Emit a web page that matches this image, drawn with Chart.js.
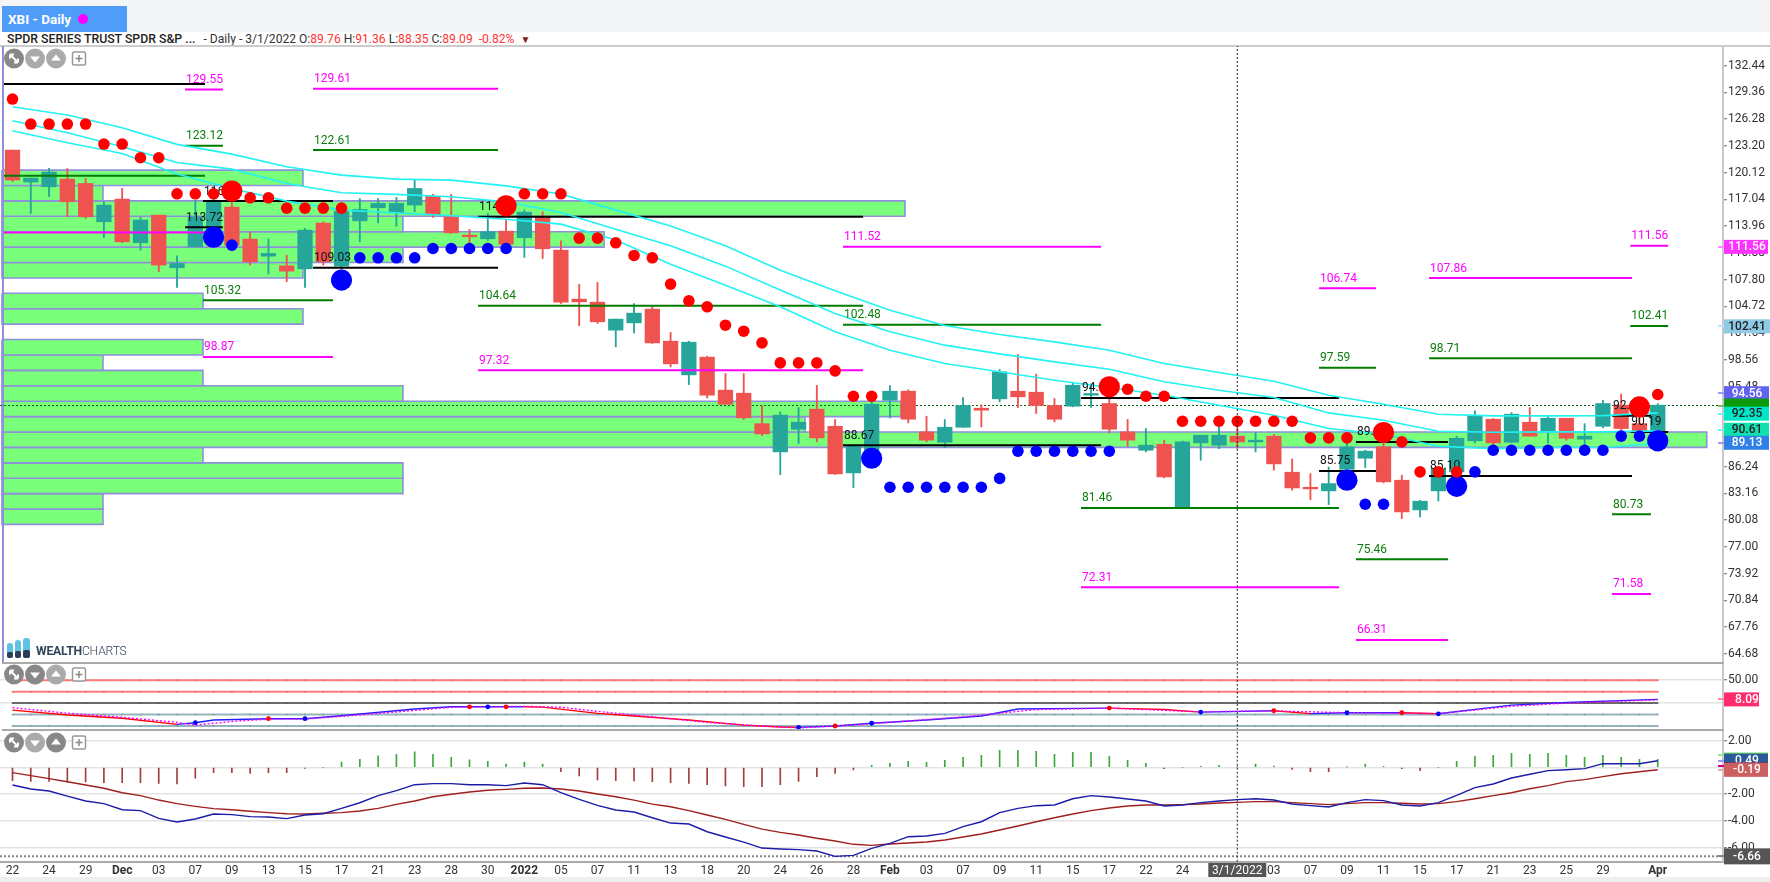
<!DOCTYPE html>
<html>
<head>
<meta charset="utf-8">
<title>XBI - Daily</title>
<script src="https://cdn.jsdelivr.net/npm/chart.js@4"></script>
<style>
  html, body { margin: 0; padding: 0; background: #fff; overflow: hidden; }
  body { width: 1770px; height: 882px; position: relative; font-family: Roboto, sans-serif; color: #333; }
  canvas { position: absolute; left: 0; }
  .abs { position: absolute; }
  #topStrip { left: 0; top: 0; width: 1770px; height: 32px; background: #f3f5f7; }
  #tab { left: 2px; top: 6px; width: 125px; height: 26px; background: #4f9cf9; color: #fff; font-size: 13.5px; font-weight: 700; line-height: 26px; text-indent: 6px; }
  #tabDot { left: 78px; top: 14px; width: 10px; height: 10px; border-radius: 50%; background: #ff00ff; }
  #info { left: 7px; top: 32px; height: 14px; font-size: 12.1px; line-height: 14px; white-space: nowrap; }
  #info b { font-weight: 500; font-size: 12.3px; color: #222; margin-right: 5px; }
  #info .r { color: #f33; }
  #info .t { color: #8b1a1a; font-size: 10px; }
  .sep { left: 2px; width: 1722px; height: 2px; background: #aaa; }
  #headLine { left: 0; top: 45px; width: 1770px; height: 2px; background: #ccc; }
  #leftEdge { left: 2px; top: 46px; width: 1.5px; height: 616px; background: #8f8fdc; }
  #foot { left: 0; top: 877px; width: 1770px; height: 5px; background: #eef0f0; }
  .ctl { position: absolute; }
  #brand { left: 36px; top: 644px; font-size: 12.2px; color: #33455a; letter-spacing: -.2px; }
  #brand b { font-weight: 700; }
  #brand span { font-weight: 300; }
</style>
</head>
<body>
<div class="abs" id="topStrip"></div>
<div class="abs" id="tab">XBI - Daily</div>
<div class="abs" id="tabDot"></div>
<div class="abs" id="info"><b>SPDR SERIES TRUST SPDR S&amp;P ...</b> - Daily - 3/1/2022 O:<span class="r">89.76</span> H:<span class="r">91.36</span> L:<span class="r">88.35</span> C:<span class="r">89.09</span>&nbsp; <span class="r">-0.82%</span>&nbsp; <span class="t">▼</span></div>
<div class="abs" id="headLine"></div>

<canvas id="priceChart" width="1770" height="617" style="top:46px"></canvas>
<canvas id="oscChart" width="1770" height="67" style="top:663px"></canvas>
<canvas id="macdChart" width="1770" height="152" style="top:730px"></canvas>

<div class="abs" id="leftEdge"></div>
<div class="abs sep" style="top:662px"></div>
<div class="abs sep" style="top:729px"></div>
<div class="abs" id="foot"></div>

<svg class="abs" style="left:6px;top:637px" width="26" height="22">
  <rect x="1" y="6" width="6" height="15" rx="3" fill="#5ec3e3"/><rect x="9" y="3" width="6" height="18" rx="3" fill="#5ec3e3"/><rect x="17" y="1" width="7" height="20" rx="3" fill="#5ec3e3"/>
  <rect x="1" y="15" width="6" height="6" rx="2" fill="#2c3e55"/><rect x="9" y="14" width="6" height="7" rx="2" fill="#2c3e55"/><rect x="17" y="13" width="7" height="8" rx="2" fill="#2c3e55"/>
</svg>
<div class="abs" id="brand"><b>WEALTH</b><span>CHARTS</span></div>

<script>
// ---- Candles (one entry per trading day) ----
const opens = [122.70,119.02,118.48,119.36,118.86,114.45,117.06,112.03,115.21,109.15,111.57,113.00,116.14,112.45,110.49,109.38,109.03,114.30,109.34,114.56,116.06,115.49,116.37,117.40,115.02,112.91,112.49,113.37,112.61,115.02,111.18,105.54,105.19,101.97,102.81,104.39,100.70,96.82,98.86,95.06,94.71,91.20,87.95,90.56,92.87,90.90,85.53,88.14,93.90,94.94,90.25,89.06,90.79,92.98,94.06,94.94,94.82,93.29,93.21,94.48,93.52,90.25,88.14,88.83,81.54,88.99,88.72,89.76,89.10,89.76,85.61,83.88,83.46,85.95,87.22,88.53,84.69,81.27,83.46,85.65,89.22,91.71,89.06,91.37,90.37,91.83,89.41,90.90,93.33,91.20,90.25];
const highs = [122.70,119.48,120.59,120.59,119.44,116.75,118.29,114.95,115.21,110.53,116.95,117.90,116.90,113.30,112.45,110.60,113.68,114.45,115.68,117.13,117.13,117.25,119.25,117.60,117.60,113.56,115.40,114.64,115.80,115.60,112.26,107.23,107.46,103.24,105.04,104.66,101.70,100.70,98.97,96.97,96.97,93.25,92.56,93.06,95.60,91.68,88.72,93.90,95.60,95.10,92.06,91.68,94.21,93.37,97.44,99.16,96.90,94.09,95.94,95.80,94.20,91.68,90.64,89.30,89.20,89.87,90.83,91.36,90.18,89.95,87.14,85.45,86.20,89.00,88.15,90.50,85.26,82.38,86.15,89.75,92.67,91.80,92.48,93.06,91.98,91.83,91.20,93.90,94.60,93.00,93.50];
const lows = [119.06,115.41,117.33,115.02,114.83,112.64,112.03,111.18,108.69,106.88,111.57,113.00,111.50,109.46,108.42,107.54,106.88,109.46,109.00,112.14,114.33,113.95,115.60,114.95,113.10,111.76,112.30,111.76,110.34,110.22,105.04,102.47,102.74,100.05,101.66,100.43,97.74,95.70,94.17,93.44,91.67,89.83,85.34,88.91,89.10,85.34,83.84,88.00,91.87,91.29,89.10,88.45,90.79,90.83,93.71,93.06,92.37,91.40,93.14,93.06,90.14,88.60,87.95,84.95,81.54,86.99,88.33,88.35,87.95,85.84,83.54,82.46,81.88,85.90,86.14,84.38,80.27,80.46,82.30,85.00,88.99,88.72,88.99,89.76,88.99,89.30,87.95,90.72,90.50,90.00,90.00];
const closes = [119.25,119.48,120.17,116.75,115.02,116.37,112.14,114.64,109.46,109.65,115.02,116.75,111.76,109.84,110.80,108.76,113.49,109.84,115.68,115.87,116.56,116.56,118.29,115.29,113.18,112.72,113.30,111.87,115.56,111.34,105.19,105.23,102.93,103.24,103.93,100.50,98.09,100.58,94.48,93.44,91.87,90.02,92.18,91.37,89.56,85.42,88.72,93.44,94.94,91.71,89.30,90.79,93.29,92.75,97.17,94.29,93.29,91.71,95.63,94.67,90.56,89.30,88.72,85.07,89.10,89.87,89.87,89.09,89.30,86.57,83.80,83.69,84.30,88.53,88.03,84.50,81.04,82.27,86.03,89.52,92.06,88.99,92.29,89.76,91.83,89.52,89.76,93.52,90.64,90.25,93.33];

// ---- Swing dots, [bar, price] ----
const redSmall = [[0,128.58],[1,125.7],[2,125.7],[3,125.7],[4,125.7],[5,123.4],[6,123.4],[7,121.82],[8,121.82],[9,117.67],[10,117.67],[11,117.67],[13,117.21],[14,117.21],[15,116.02],[16,116.02],[17,116.02],[18,116.02],[28,117.67],[29,117.67],[30,117.67],[31,112.57],[32,112.57],[33,112.03],[34,110.57],[35,110.3],[36,107.27],[37,105.35],[38,104.66],[39,102.54],[40,101.85],[41,100.5],[42,98.2],[43,98.2],[44,98.2],[45,97.28],[46,94.36],[47,94.36],[61,95.17],[62,94.36],[63,94.36],[64,91.48],[65,91.48],[66,91.48],[67,91.48],[68,91.48],[69,91.48],[70,91.48],[71,89.56],[72,89.56],[73,89.56],[76,89.1],[77,85.65],[78,85.65],[79,85.65],[90,94.56]];
const redBig = [[12,117.98],[27,116.29],[60,95.44],[75,90.18],[89,93.13]];
const blueSmall = [[12,111.76],[19,110.3],[20,110.3],[21,110.3],[22,110.3],[23,111.37],[24,111.37],[25,111.37],[26,111.37],[27,111.37],[48,83.88],[49,83.88],[50,83.88],[51,83.88],[52,83.88],[53,83.88],[54,84.9],[55,88.03],[56,88.03],[57,88.03],[58,88.03],[59,88.03],[60,88.03],[74,81.92],[75,81.92],[80,85.65],[81,88.14],[82,88.14],[83,88.14],[84,88.14],[85,88.14],[86,88.14],[87,88.14],[88,89.76],[89,89.76]];
const blueBig = [[11,112.68],[18,107.73],[47,87.22],[73,84.69],[79,83.99],[90,89.22]];

// ---- Cyan envelope, sampled every third bar ----
const envBars = [0,3,6,9,12,15,18,21,24,27,30,33,36,39,42,45,48,51,54,57,60,63,66,69,72,75,78,81,84,87,90];
const envUpper = [127.7,126.74,125.28,123.36,122.24,120.78,119.82,119.36,119.25,118.58,117.64,115.79,113.95,111.68,108.88,106.5,104.27,102.5,101.47,100.62,99.66,98.13,97.09,96.09,94.48,93.44,92.29,92.1,92.1,92.13,92.44];
const envMiddle = [126.08,124.7,123.09,121.28,120.51,118.86,117.79,117.6,117.33,116.75,115.52,113.6,111.68,109.34,106.58,103.89,101.78,100.24,99.24,98.32,97.47,96.02,95.05,94.21,92.44,91.6,90.33,90.22,90.25,90.25,90.37];
const envLower = [124.93,123.55,122.32,119.94,118.29,116.83,115.79,115.49,115.14,114.74,114.18,112.34,109.57,107.15,104.66,101.78,99.66,98.13,97.17,96.2,95.36,94.48,93.33,92.18,90.64,89.99,88.6,88.33,88.45,88.45,88.91];

// ---- Level segments, [first bar, last bar, price, label] ----
const blackLevels = [[-0.57,10.53,130.31,''],[10.42,17.53,116.83,'116.72'],[9.44,11.51,113.83,'113.72'],[16.44,26.56,109.15,'109.03'],[25.47,46.53,115.02,'114.90'],[45.43,59.55,88.72,'88.67'],[58.45,72.57,94.17,'94.05'],[71.47,74.59,85.76,'85.75'],[73.49,78.53,89.1,'89.00'],[77.49,88.59,85.18,'85.10'],[87.5,89.63,92.1,'92.00'],[88.5,90.57,90.25,'90.19']];
const greenLevels = [[-0.57,10.53,119.75,''],[9.44,11.51,123.2,'123.12'],[16.44,26.56,122.7,'122.61'],[10.42,17.53,105.42,'105.32'],[25.47,46.53,104.77,'104.64'],[45.43,59.55,102.58,'102.48'],[58.45,72.57,81.5,'81.46'],[71.47,74.59,97.63,'97.59'],[73.49,78.53,75.6,'75.46'],[77.49,88.59,98.74,'98.71'],[88.5,90.57,102.46,'102.41'],[87.5,89.63,80.77,'80.73']];
const magentaLevels = [[-0.57,10.53,113.22,''],[9.44,11.51,129.69,'129.55'],[16.44,26.56,129.77,'129.61'],[10.42,17.53,98.89,'98.87'],[25.47,46.53,97.36,'97.32'],[45.43,59.55,111.57,'111.52'],[58.45,72.57,72.35,'72.31'],[71.47,74.59,106.8,'106.74'],[73.49,78.53,66.3,'66.31'],[77.49,88.59,107.96,'107.86'],[88.5,90.57,111.68,'111.56'],[87.5,89.63,71.59,'71.58']];

// ---- Volume profile: top price, bottom price, last bar ----
const profileTop = [120.40,118.63,116.85,115.08,113.30,111.53,109.76,106.21,104.43,100.89,99.11,97.34,95.56,93.79,92.01,90.24,88.47,86.69,84.92,83.14,81.37];
const profileBottom = [118.63,116.85,115.08,113.30,111.53,109.76,107.98,104.43,102.66,99.11,97.34,95.56,93.79,92.01,90.24,88.47,86.69,84.92,83.14,81.37,79.60];
const profileEnd = [15.89,4.95,48.82,21.36,32.36,21.36,15.89,10.42,15.89,10.42,4.95,10.42,21.36,48.6,43.35,92.68,10.42,21.36,21.36,4.95,4.95];

// ---- Oscillator panel ----
const oscBars = [0,3,6,9,10,11,14,16,18,22,24,26,28,29,32,34,37,40,42,43,45,47,50,53,55,60,63,65,69,71,73,76,78,82,85,90];
const oscMain = [-15.2,-26,-33,-46.4,-42.8,-37,-34,-34,-27.5,-13,-8,-8,-8,-8.7,-22.5,-28,-37,-48,-52,-53,-50,-44,-37,-28,-13,-10.9,-14,-19.6,-16.7,-23,-21,-21,-23.3,-4.3,1.5,8.09];
const sigBars = [0,3,6,9,10,12,14,16,18,22,24,28,30,32,35,38,41,43,46,48,52,56,60,65,69,73,78,82,85,90];
const oscSignal = [-10,-22,-31,-42,-48,-40,-35,-35,-29,-16,-9,-7,-9,-18,-30,-42,-50,-54,-48,-42,-30,-14,-11,-19,-17,-21,-23,-7,0,7];
const oscBlueDots = [[10,-42.8],[16,-34],[26,-8],[43,-53],[47,-44],[65,-19.6],[73,-21],[78,-23.3]];
const oscRedDots = [[14,-34],[25,-8],[27,-8],[45,-50],[60,-10.9],[69,-16.7],[76,-21]];
const oscRedLevels = [50, 25];
const oscDarkLevels = [0];
const oscBlueLevels = [-25, -50];

// ---- MACD panel ----
const macdHist = [-1,-1.05,-1.05,-1.1,-1.1,-1.15,-1.15,-1.15,-1.2,-1.25,-0.82,-0.4,-0.4,-0.45,-0.4,-0.4,-0.08,0,0.4,0.6,0.85,0.97,1.15,0.97,0.75,0.55,0.45,0.25,0.4,0.25,-0.32,-0.65,-0.95,-1,-1.02,-1.08,-1.15,-1.2,-1.3,-1.4,-1.45,-1.45,-1.3,-1.05,-0.7,-0.45,-0.2,0.15,0.3,0.45,0.37,0.52,0.75,0.9,1.27,1.27,1.2,0.97,1.12,1.12,0.82,0.52,0.3,-0.1,0,0.07,0.15,0.02,0.25,0.1,-0.15,-0.32,-0.32,0.02,0.25,0.07,-0.1,-0.25,0,0.45,0.82,0.9,1.05,0.97,1.05,0.9,0.75,0.9,0.75,0.6,0.6];
const macdBlue = [-1.32,-1.62,-1.77,-2.15,-2.52,-2.72,-3.17,-3.24,-3.82,-4.09,-3.87,-3.49,-3.54,-3.69,-3.72,-3.84,-3.57,-3.47,-3.07,-2.65,-2.12,-1.75,-1.3,-1.22,-1.22,-1.3,-1.3,-1.37,-1.17,-1.3,-1.9,-2.4,-2.85,-3.19,-3.34,-3.77,-4.17,-4.24,-4.82,-5.21,-5.59,-6.04,-6.11,-6.16,-6.26,-6.66,-6.59,-6.06,-5.69,-5.19,-5.14,-4.94,-4.44,-4.07,-3.39,-3.07,-2.87,-2.82,-2.35,-2.12,-2.22,-2.37,-2.52,-2.89,-2.82,-2.64,-2.52,-2.42,-2.35,-2.45,-2.74,-2.87,-2.97,-2.64,-2.42,-2.49,-2.82,-2.89,-2.64,-2.1,-1.52,-1.25,-0.8,-0.52,-0.25,-0.18,-0.1,0.27,0.27,0.27,0.49];
const macdRed = [-0.4,-0.62,-0.85,-1.08,-1.32,-1.57,-1.9,-2.12,-2.45,-2.72,-2.92,-3.09,-3.17,-3.29,-3.39,-3.47,-3.49,-3.44,-3.39,-3.27,-3.07,-2.77,-2.52,-2.2,-2.02,-1.85,-1.72,-1.65,-1.57,-1.55,-1.62,-1.77,-2,-2.2,-2.45,-2.75,-2.95,-3.24,-3.57,-3.89,-4.27,-4.62,-4.87,-5.06,-5.31,-5.51,-5.76,-5.84,-5.74,-5.66,-5.59,-5.44,-5.21,-4.99,-4.69,-4.39,-4.07,-3.77,-3.49,-3.24,-3.04,-2.89,-2.82,-2.82,-2.79,-2.74,-2.67,-2.62,-2.57,-2.57,-2.64,-2.72,-2.79,-2.72,-2.64,-2.64,-2.69,-2.74,-2.72,-2.57,-2.35,-2.12,-1.9,-1.6,-1.37,-1.07,-0.92,-0.7,-0.48,-0.33,-0.18];

// ---- Axes ----
const priceTicks = [132.44,129.36,126.28,123.20,120.12,117.04,113.96,110.88,107.80,104.72,101.64,98.56,95.48,92.40,89.32,86.24,83.16,80.08,77.00,73.92,70.84,67.76,64.68];
const oscTicks = [50, 0];
const macdTicks = [2, 0, -2, -4, -6];
const dateBars = [0,2,4,6,8,10,12,14,16,18,20,22,24,26,28,30,32,34,36,38,40,42,44,46,48,50,52,54,56,58,60,62,64,69,71,73,75,77,79,81,83,85,87,90];
const dateLabels = ['22','24','29','Dec','03','07','09','13','15','17','21','23','28','30','2022','05','07','11','13','18','20','24','26','28','Feb','03','07','09','11','15','17','22','24','03','07','09','11','15','17','21','23','25','29','Apr'];
const boldDates = ['Dec', '2022', 'Feb', 'Apr'];

// value shown by the crosshair, last close
const crossBar = 67;
const crossDate = '3/1/2022';
const lastClose = 93.29;
const macdLow = -6.66;

const priceTags = [
  { value: 111.56, text: '111.56', bg: '#ff33ff', fg: '#fff', dash: '#ff88ff', right: 1768 },
  { value: 102.41, text: '102.41', bg: '#8fcbe6', fg: '#222', dash: '#bfe3f2', right: 1770 },
  { value: 94.7, text: '94.56', bg: '#6161f2', fg: '#fff', dash: '#9a9af5', right: 1769 },
  { value: 93.29, text: '', bg: '#0a9a0a', fg: '#fff', dash: '#6fbf6f', right: 1769 },
  { value: 92.35, text: '92.35', bg: '#00e6c8', fg: '#222', dash: '#70f5f5', right: 1769 },
  { value: 90.5, text: '90.61', bg: '#11e0b0', fg: '#222', dash: '#70f5f5', right: 1769 },
  { value: 89.0, text: '89.13', bg: '#2f80e8', fg: '#fff', dash: '#9a9af5', right: 1769 },
];
const oscTags = [{ value: 8.09, text: '8.09', bg: '#ff2d6e', fg: '#fff', dash: '#ff88aa', right: 1759 }];
const macdTags = [
  { value: 0.95, text: '', h: 4, bg: '#5cc85c', fg: '#fff', dash: '#9adf9a', right: 1768 },
  { value: 0.49, text: '0.49', bg: '#2a5a9a', fg: '#fff', dash: '#9a9af5', right: 1768 },
  { value: 0.1, text: '', h: 7, bg: '#8a2040', fg: '#fff', dash: '#c08', right: 1768 },
  { value: -0.19, text: '-0.19', bg: '#cc6060', fg: '#fff', dash: '#eaa', right: 1768 },
  { value: -6.66, text: '-6.66', h: 16, bg: '#555', fg: '#fff', dash: '#888', right: 1770 },
];

const X_MIN = -0.684;
const X_MAX = 93.57;
const FONT = '12px Roboto';
const TEAL = '#26a69a';
const RED = '#ef5350';

// ---- Dataset helpers ----
function segment(x0, y0, x1, y1, color, width, order, dash) {
  return {
    type: 'line', order, data: [{ x: x0, y: y0 }, { x: x1, y: y1 }],
    borderColor: color, borderWidth: width, borderDash: dash || [],
    pointRadius: 0, tension: 0, fill: false,
  };
}

function curve(bars, values, color, width, order) {
  return {
    type: 'line', order, data: bars.map((b, i) => ({ x: b, y: values[i] })),
    borderColor: color, borderWidth: width, pointRadius: 0, tension: 0, fill: false,
  };
}

function dots(label, pairs, color, radius, order) {
  return {
    label, type: 'line', order, showLine: false,
    data: pairs.map(p => ({ x: p[0], y: p[1] })),
    pointRadius: radius, pointBackgroundColor: color, pointBorderWidth: 0,
  };
}

function allBars(values) {
  return values.map((_, i) => i);
}

function floatingBars(pairs, colors, thickness, order) {
  return {
    type: 'bar', order, grouped: false, barThickness: thickness,
    data: pairs, backgroundColor: colors, borderWidth: 0,
  };
}

// oscillator guide line, with the small darker mark it carries on every bar
function guide(value, color, markColor) {
  return {
    type: 'line', order: 40,
    data: allBars(macdHist).map(i => ({ x: i, y: value })),
    borderColor: color, borderWidth: 2, tension: 0, fill: false,
    pointStyle: 'rect', pointRadius: 1, pointBorderWidth: 0, pointBackgroundColor: markColor,
  };
}

// the scale reserves half a label at each end; these panels must fill their box
function noPadding(axis) {
  axis.paddingTop = 0;
  axis.paddingBottom = 0;
  axis.paddingLeft = 0;
  axis.paddingRight = 0;
}

function yAxis(min, max, ticks, grid) {
  return {
    position: 'right', min, max,
    afterFit: axis => { axis.width = 47; noPadding(axis); },
    afterBuildTicks: axis => { axis.ticks = ticks.map(v => ({ value: v })); },
    border: { color: '#c8c8c8', width: 2 },
    grid: { drawOnChartArea: grid, color: '#e3e3e3', lineWidth: 1.5, tickColor: '#666', tickLength: 4, tickWidth: 1 },
    ticks: { autoSkip: false, padding: 1, color: '#333', font: { family: 'Roboto', size: 12 }, callback: v => v.toFixed(2) },
  };
}

function hiddenX() {
  return { type: 'linear', display: false, min: X_MIN, max: X_MAX, offset: false };
}

// ---- Plugins ----
const tagPlugin = tags => ({
  id: 'tags',
  afterDraw(chart) {
    const { ctx, scales } = chart;
    ctx.save();
    ctx.font = '500 12px Roboto';
    ctx.textBaseline = 'middle';
    ctx.textAlign = 'center';
    tags.forEach(t => {
      const y = scales.y.getPixelForValue(t.value);
      const h = t.h || 14;
      ctx.fillStyle = t.dash;
      ctx.fillRect(1718, Math.round(y) - 1, 6, 2);
      ctx.fillStyle = t.bg;
      ctx.fillRect(1724, y - h / 2, t.right - 1724, h);
      if (t.text) {
        ctx.fillStyle = t.fg;
        ctx.fillText(t.text, 1747, y + 0.5);
      }
    });
    ctx.restore();
  },
});

// level labels sit under the swing dots
const levelTextPlugin = {
  id: 'levelText',
  beforeDatasetDraw(chart, args) {
    if (chart.data.datasets[args.index].label !== 'blueSmall') return;
    const { ctx, scales } = chart;
    ctx.save();
    ctx.font = FONT;
    ctx.textBaseline = 'alphabetic';
    const put = (rows, color) => rows.forEach(r => {
      if (!r[3]) return;
      ctx.fillStyle = color;
      ctx.fillText(r[3], scales.x.getPixelForValue(r[0]) + 1, scales.y.getPixelForValue(r[2]) - 6.5);
    });
    put(blackLevels, '#111');
    put(greenLevels, '#0b7d0b');
    put(magentaLevels, '#ff00ff');
    ctx.restore();
  },
};

const dateTagPlugin = {
  id: 'dateTag',
  afterDraw(chart) {
    const { ctx, scales } = chart;
    const x = scales.x.getPixelForValue(crossBar);
    ctx.save();
    ctx.fillStyle = '#555';
    ctx.fillRect(x - 29, 133, 58, 14);
    ctx.fillStyle = '#fff';
    ctx.font = FONT;
    ctx.textAlign = 'center';
    ctx.textBaseline = 'middle';
    ctx.fillText(crossDate, x, 140.5);
    ctx.restore();
  },
};

const baseOptions = {
  responsive: false,
  animation: false,
  events: [],
  layout: { padding: 0, autoPadding: false },
  plugins: { legend: { display: false }, tooltip: { enabled: false } },
};

// ---- Price panel ----
const candleColors = closes.map((c, i) => (c >= opens[i] ? TEAL : RED));
const priceData = [];

profileTop.forEach((top, i) => {
  const left = -0.575;
  priceData.push({
    type: 'line', order: 100,
    data: [
      { x: left, y: top }, { x: profileEnd[i], y: top }, { x: profileEnd[i], y: profileBottom[i] },
      { x: left, y: profileBottom[i] }, { x: left, y: top },
    ],
    borderColor: '#8f8fdc', borderWidth: 1.6, backgroundColor: '#79ff79',
    fill: 'shape', pointRadius: 0, tension: 0,
  });
});
priceData.push(segment(X_MIN, lastClose, X_MAX, lastClose, '#0c5c0c', 1, 60, [2, 2]));
priceData.push(floatingBars(allBars(lows).map(i => ({ x: i, y: [lows[i], highs[i]] })), candleColors, 1.2, 50));
priceData.push(floatingBars(allBars(opens).map(i => ({ x: i, y: [opens[i], closes[i]] })), candleColors, 14.6, 49));
[[magentaLevels, '#ff00ff'], [greenLevels, '#007c00'], [blackLevels, '#000']].forEach(([rows, color]) => {
  rows.forEach(r => priceData.push(segment(r[0], r[2], r[1], r[2], color, 2, 40)));
});
priceData.push(curve(envBars, envUpper, '#22f2f2', 1.6, 30));
priceData.push(curve(envBars, envMiddle, '#22f2f2', 1.6, 30));
priceData.push(curve(envBars, envLower, '#22f2f2', 1.6, 30));
priceData.push(dots('blueSmall', blueSmall, '#0000ff', 5.8, 20));
priceData.push(dots('blueBig', blueBig, '#0000ff', 10.6, 19));
priceData.push(dots('redSmall', redSmall, '#ff0000', 5.8, 18));
priceData.push(dots('redBig', redBig, '#ff0000', 10.6, 17));
priceData.push(segment(crossBar, 63.64, crossBar, 134.69, '#222', 1, 5, [2, 2]));

new Chart(document.getElementById('priceChart'), {
  type: 'bar',
  data: { datasets: priceData },
  options: {
    ...baseOptions,
    scales: { x: hiddenX(), y: yAxis(63.64, 134.69, priceTicks, false) },
  },
  plugins: [levelTextPlugin, tagPlugin(priceTags)],
});

// ---- Oscillator panel ----
const oscData = [];
oscRedLevels.forEach(v => oscData.push(guide(v, '#ff7b7b', '#e06060')));
oscDarkLevels.forEach(v => oscData.push(guide(v, '#6a6a6a', '#555')));
oscBlueLevels.forEach(v => oscData.push(guide(v, '#96b4be', '#7a98a4')));
oscData.push({
  ...curve(oscBars, oscMain, '#0000ff', 1.4, 30),
  segment: { borderColor: c => (c.p1.parsed.y < c.p0.parsed.y ? '#ff0000' : '#2020ff') },
});
oscData.push({ ...curve(sigBars, oscSignal, '#ff00ff', 1.4, 29), borderDash: [2, 2] });
oscData.push(dots('oscBlue', oscBlueDots, '#0000ff', 2.4, 20));
oscData.push(dots('oscRed', oscRedDots, '#ff0000', 2.4, 19));
oscData.push(segment(crossBar, -58.5, crossBar, 87.5, '#222', 1, 5, [2, 2]));

new Chart(document.getElementById('oscChart'), {
  type: 'line',
  data: { datasets: oscData },
  options: {
    ...baseOptions,
    scales: { x: hiddenX(), y: yAxis(-58.7, 87.6, oscTicks, true) },
  },
  plugins: [tagPlugin(oscTags)],
});

// ---- MACD panel ----
const histColors = macdHist.map(v => (v >= 0 ? '#3aa83a' : '#a33c3c'));
const macdData = [
  floatingBars(allBars(macdHist).map(i => ({ x: i, y: [0, macdHist[i]] })), histColors, 1, 50),
  curve(allBars(macdRed), macdRed, '#a01f1f', 1.4, 31),
  curve(allBars(macdBlue), macdBlue, '#1c1ca8', 1.4, 30),
  segment(X_MIN, macdLow, X_MAX, macdLow, '#888', 2, 40, [2, 2]),
  segment(crossBar, -7.06, crossBar, 2.79, '#222', 1, 5, [2, 2]),
];

new Chart(document.getElementById('macdChart'), {
  type: 'bar',
  data: { datasets: macdData },
  options: {
    ...baseOptions,
    scales: {
      x: {
        type: 'linear', min: X_MIN, max: X_MAX, offset: false,
        afterFit: axis => { axis.height = 20.3; noPadding(axis); },
        afterBuildTicks: axis => { axis.ticks = dateBars.map(v => ({ value: v })); },
        border: { color: '#aaa', width: 2 },
        grid: { display: false, drawTicks: false },
        ticks: {
          autoSkip: false, maxRotation: 0, padding: 2, color: '#333',
          font: c => ({ family: 'Roboto', size: 12, weight: c.tick && boldDates.includes(dateLabels[dateBars.indexOf(c.tick.value)]) ? '700' : '400' }),
          callback: v => dateLabels[dateBars.indexOf(v)],
        },
      },
      y: yAxis(-7.06, 2.79, macdTicks, true),
    },
  },
  plugins: [tagPlugin(macdTags), dateTagPlugin],
});

// ---- Panel controls ----
function addControls(top, shades) {
  const glyphs = [
    '<path d="M-4 -4 L4 4 M-4 -4 h4 M-4 -4 v4 M4 4 h-4 M4 4 v-4" stroke="#fff" stroke-width="2" fill="none"/>',
    '<path d="M-5 -2 L5 -2 L0 4 Z" fill="#fff"/>',
    '<path d="M-5 2 L5 2 L0 -4 Z" fill="#fff"/>',
  ];
  let html = '';
  shades.forEach((shade, i) => {
    html += `<g transform="translate(${14 + i * 21},10.5)"><circle r="10" fill="${shade}"/>${glyphs[i]}</g>`;
  });
  html += '<rect x="72.5" y="4" width="13" height="13" rx="1.5" fill="#fff" stroke="#999" stroke-width="1.5"/><path d="M79 7 v7 M75.5 10.5 h7" stroke="#888" stroke-width="1.5"/>';
  const holder = document.createElementNS('http://www.w3.org/2000/svg', 'svg');
  holder.setAttribute('class', 'ctl');
  holder.setAttribute('width', '90');
  holder.setAttribute('height', '22');
  holder.style.left = '0px';
  holder.style.top = top + 'px';
  holder.innerHTML = html;
  document.body.appendChild(holder);
}
addControls(48, ['#888', '#aaa', '#aaa']);
addControls(664, ['#888', '#888', '#aaa']);
addControls(732, ['#888', '#aaa', '#888']);
</script>
</body>
</html>
